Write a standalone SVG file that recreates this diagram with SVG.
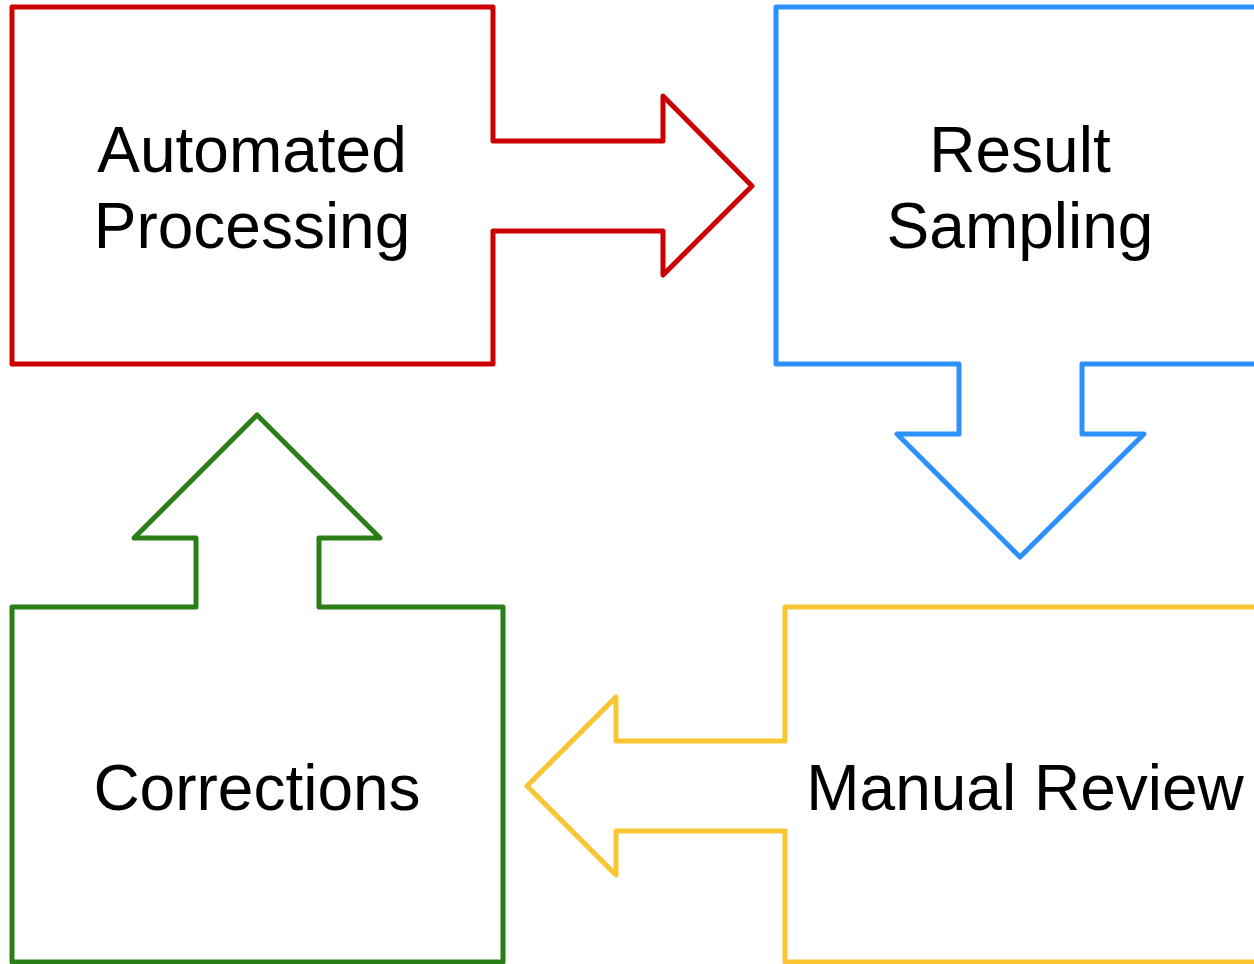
<svg xmlns="http://www.w3.org/2000/svg" width="1254" height="964" viewBox="0 0 1254 964">
<style>
.s{fill:#ffffff;stroke-width:5;stroke-linejoin:round}
.t{font-family:"Liberation Sans",Arial,sans-serif;font-size:64px;fill:#000000;text-anchor:middle}
</style>
<rect width="1254" height="964" fill="#ffffff"/>
<g id="connectors"></g>
<g id="automated-processing">
<path class="s" stroke="#cc0000" d="M12,7 H493 V141 H663 V96 L752,186 L663,275 V231 H493 V364 H12 Z"/>
<text class="t" x="252" y="172">Automated</text>
<text class="t" x="252" y="248">Processing</text>
</g>
<g id="result-sampling">
<path class="s" stroke="#2d90ff" d="M776,7 H1264 V364 H1082 V434 H1144 L1020,557 L897,434 H959 V364 H776 Z"/>
<text class="t" x="1020" y="172">Result</text>
<text class="t" x="1020" y="248">Sampling</text>
</g>
<g id="manual-review">
<path class="s" stroke="#fbc532" d="M785,607 H1265 V962 H785 V831 H616 V875 L527,786 L616,697 V741 H785 Z"/>
<text class="t" x="1025" y="810">Manual Review</text>
</g>
<g id="corrections">
<path class="s" stroke="#2a7e15" d="M12,607 H196 V538 H134 L257,415 L380,538 H319 V607 H503 V962 H12 Z"/>
<text class="t" x="257" y="810">Corrections</text>
</g>
</svg>
